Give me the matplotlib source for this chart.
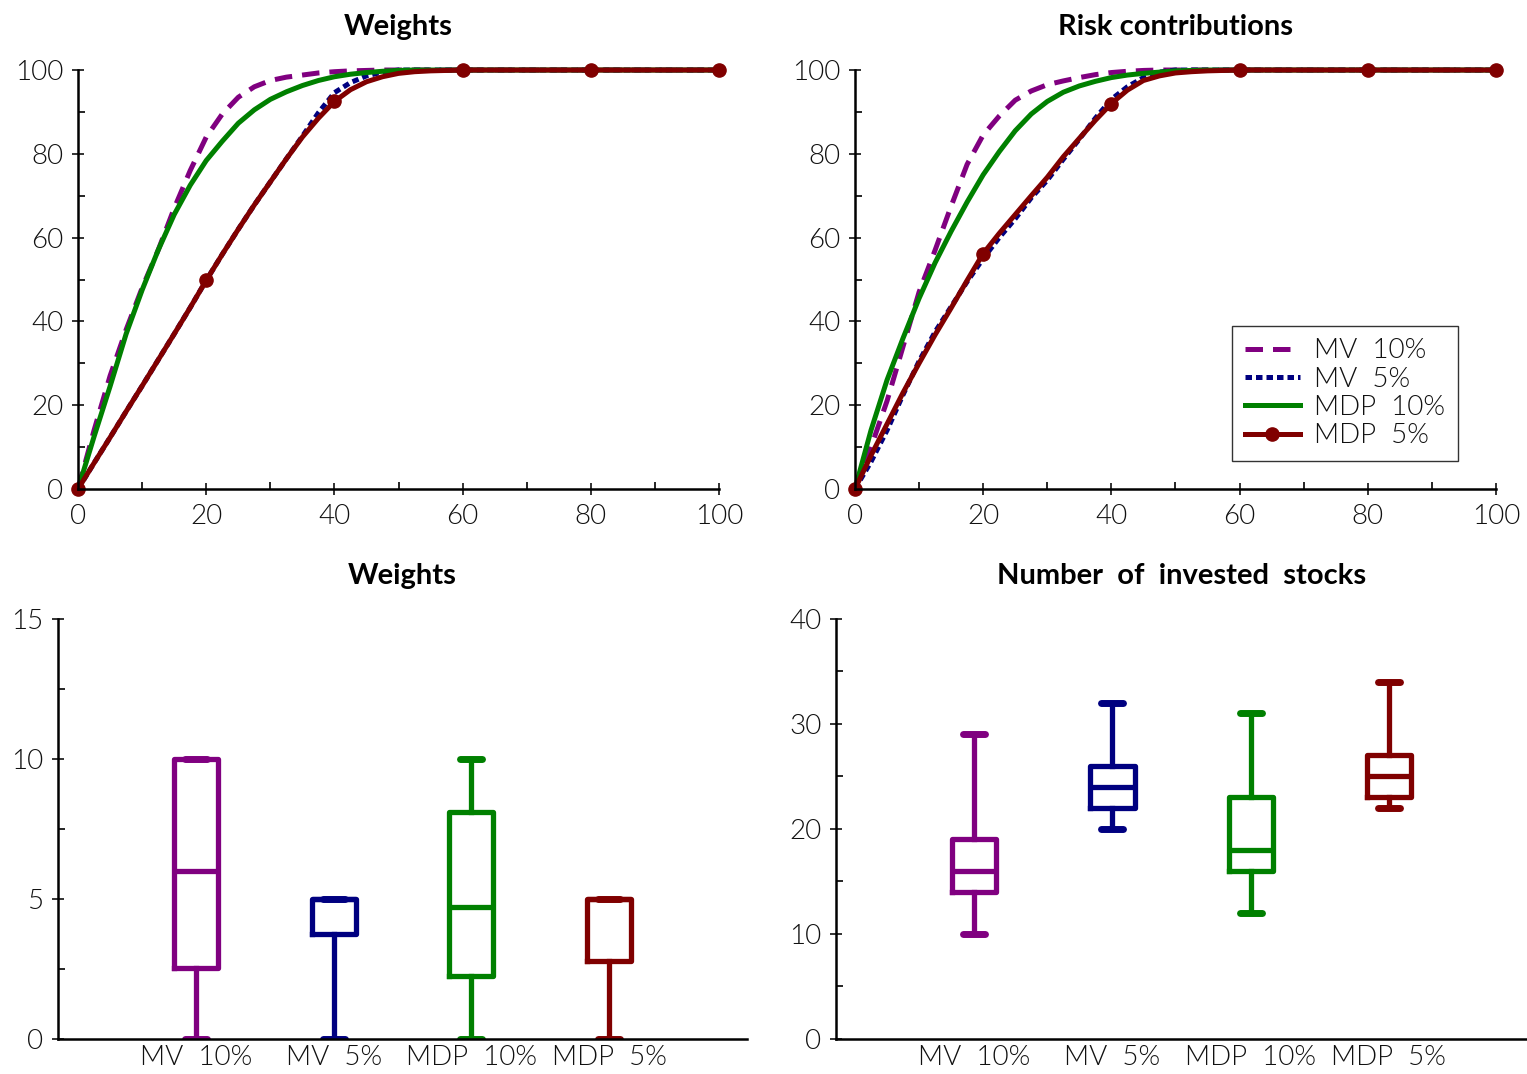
import numpy as np
import matplotlib
matplotlib.use('Agg')
import matplotlib.pyplot as plt
from matplotlib.ticker import MultipleLocator

plt.rcParams['font.family'] = ['Lato', 'DejaVu Sans']
plt.rcParams['font.weight'] = 300

PURPLE = '#800080'
NAVY = '#000080'
GREEN = '#008000'
DARKRED = '#800000'
colors = [PURPLE, NAVY, GREEN, DARKRED]
labels = ['MV  10%', 'MV  5%', 'MDP  10%', 'MDP  5%']

# share of stocks (%) on the x axis of the cumulative curves
x_pct = [0, 2.5, 5, 7.5, 10, 12.5, 15, 17.5, 20, 22.5, 25, 27.5, 30, 32.5, 35,
         37.5, 40, 42.5, 45, 47.5, 50, 52.5, 55, 60, 70, 80, 90, 100]

# cumulative weights (%)
w_mv10 = [0, 14, 27, 38, 48, 57, 67, 76, 84, 89.5, 93.5, 96, 97.5, 98.3, 98.8,
          99.3, 99.6, 99.8, 99.9, 100, 100, 100, 100, 100, 100, 100, 100, 100]
w_mv5 = [0, 6.2, 12.3, 18.5, 24.6, 30.8, 37, 43.3, 49.8, 56, 62, 67.8, 73.3, 78.8, 84.2,
         89.8, 94.6, 97, 98.6, 99.5, 100, 100, 100, 100, 100, 100, 100, 100]
w_mdp10 = [0, 12.5, 24.5, 37, 47.5, 57, 65.5, 72.5, 78.4, 83, 87.3, 90.5, 93, 94.8, 96.3,
           97.5, 98.4, 99, 99.4, 99.7, 99.9, 100, 100, 100, 100, 100, 100, 100]
w_mdp5 = [0, 6.2, 12.3, 18.5, 24.6, 30.8, 37, 43.3, 49.8, 56, 62, 67.8, 73.3, 78.8, 84,
          88.5, 92.5, 95.3, 97.2, 98.4, 99.2, 99.6, 99.8, 100, 100, 100, 100, 100]

# cumulative risk contributions (%)
r_mv10 = [0, 10, 21, 34, 47, 57, 67.5, 77.5, 84.5, 89, 92.8, 95, 96.5, 97.4, 98.2,
          98.9, 99.4, 99.7, 99.9, 100, 100, 100, 100, 100, 100, 100, 100, 100]
r_mv5 = [0, 6.5, 14, 22.5, 30.5, 37.5, 43.5, 49.5, 55, 60, 64.5, 69.5, 73.7, 78.7, 83.5,
         88.5, 93, 96, 98.2, 99.5, 100, 100, 100, 100, 100, 100, 100, 100]
r_mdp10 = [0, 14, 26, 36, 45.5, 54, 61.5, 68.5, 75, 80.5, 85.5, 89.5, 92.5, 94.7, 96.2,
           97.3, 98.2, 98.8, 99.2, 99.5, 99.8, 99.9, 100, 100, 100, 100, 100, 100]
r_mdp5 = [0, 8, 15.5, 23, 30, 36.8, 43.2, 49.8, 56.2, 61, 65.5, 70, 74.4, 79.3, 83.7,
          88, 92, 95.2, 97.5, 98.6, 99.3, 99.6, 99.8, 100, 100, 100, 100, 100]

# box plot summaries: weights (%)
wt_lo = [0, 0, 0, 0]
wt_q1 = [2.55, 3.75, 2.25, 2.8]
wt_med = [6, 5, 4.7, 5]
wt_q3 = [10, 5, 8.1, 5]
wt_hi = [10, 5, 10, 5]

# box plot summaries: number of invested stocks
st_lo = [10, 20, 12, 22]
st_q1 = [14, 22, 16, 23]
st_med = [16, 24, 18, 25]
st_q3 = [19, 26, 23, 27]
st_hi = [29, 32, 31, 34]

FS = 20
TXT = '#111111'

fig = plt.figure(figsize=(15.27, 10.74), dpi=100)
ax1 = fig.add_axes([0.0511, 0.5447, 0.4198, 0.3901])
ax2 = fig.add_axes([0.5599, 0.5447, 0.4198, 0.3901])
ax3 = fig.add_axes([0.0380, 0.0326, 0.4512, 0.3911])
ax4 = fig.add_axes([0.5475, 0.0326, 0.4525, 0.3911])


def style_axes(ax):
    for s in ['top', 'right']:
        ax.spines[s].set_visible(False)
    for s in ['left', 'bottom']:
        ax.spines[s].set_linewidth(1.8)
    ax.tick_params(which='major', direction='inout', length=9, width=1.2,
                   labelsize=FS, colors=TXT, pad=6)
    ax.tick_params(which='minor', direction='in', length=5, width=1.2)


def draw_curves(ax, ys, title):
    xs = np.array(x_pct)
    styles = [dict(ls=(0, (3.5, 2))), dict(ls=(0, (1.3, 0.8))), dict(ls='-'),
              dict(ls='-', marker='o', ms=9.5, markevery=list(xs % 20 == 0))]
    for y, c, lab, st in zip(ys, colors, labels, styles):
        ax.plot(xs, y, color=c, lw=3.6, label=lab, clip_on=False, **st)
    ax.set_xlim(0, 100)
    ax.set_ylim(0, 100)
    style_axes(ax)
    ax.xaxis.set_major_locator(MultipleLocator(20))
    ax.xaxis.set_minor_locator(MultipleLocator(10))
    ax.yaxis.set_major_locator(MultipleLocator(20))
    ax.yaxis.set_minor_locator(MultipleLocator(10))
    ax.set_title(title, fontsize=21, fontweight='bold', pad=25)


def draw_boxes(ax, lo, q1, med, q3, hi, title):
    for i in range(4):
        st = dict(whislo=lo[i], q1=q1[i], med=med[i], q3=q3[i], whishi=hi[i])
        c = colors[i]
        ax.bxp([st], positions=[i + 1], widths=0.32, showfliers=False, manage_ticks=False,
               boxprops=dict(color=c, lw=3.8),
               medianprops=dict(color=c, lw=3.8),
               whiskerprops=dict(color=c, lw=3.8),
               capprops=dict(color=c, lw=5, solid_capstyle='round'))
    ax.set_xlim(0, 5)
    style_axes(ax)
    ax.set_xticks([1, 2, 3, 4])
    ax.set_xticklabels(labels)
    ax.tick_params(axis='x', length=0, pad=4)
    ax.set_title(title, fontsize=21, fontweight='bold', pad=25)


draw_curves(ax1, [w_mv10, w_mv5, w_mdp10, w_mdp5], 'Weights')
draw_curves(ax2, [r_mv10, r_mv5, r_mdp10, r_mdp5], 'Risk contributions')
leg = ax2.legend(loc='lower right', bbox_to_anchor=(0.94, 0.067), fontsize=20,
                 frameon=True, fancybox=False, edgecolor='black', handlelength=2.0,
                 labelspacing=0.12, borderpad=0.45, handletextpad=0.5, borderaxespad=0,
                 labelcolor=TXT)
leg.get_frame().set_linewidth(1.0)

draw_boxes(ax3, wt_lo, wt_q1, wt_med, wt_q3, wt_hi, 'Weights')
ax3.set_ylim(0, 15)
ax3.yaxis.set_major_locator(MultipleLocator(5))
ax3.yaxis.set_minor_locator(MultipleLocator(2.5))

draw_boxes(ax4, st_lo, st_q1, st_med, st_q3, st_hi, 'Number  of  invested  stocks')
ax4.set_ylim(0, 40)
ax4.yaxis.set_major_locator(MultipleLocator(10))
ax4.yaxis.set_minor_locator(MultipleLocator(5))

fig.savefig('out.png', dpi=100)
